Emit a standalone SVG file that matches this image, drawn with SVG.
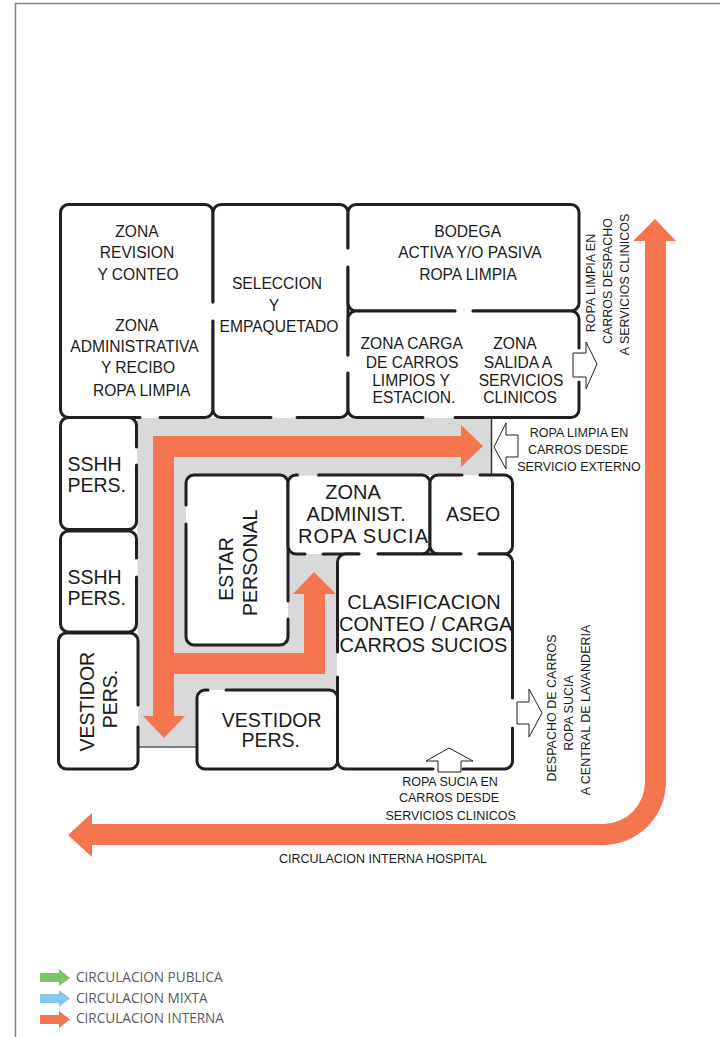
<svg xmlns="http://www.w3.org/2000/svg" width="720" height="1037" viewBox="0 0 720 1037">
<style>
text{font-family:"Liberation Sans",Arial,sans-serif;fill:#1a1a1a;text-anchor:middle}
.s{font-size:15.6px}.m{font-size:19.5px}.l{font-size:20px}.t{font-size:12.5px}
.f{fill:#fff;stroke:none}
.w{fill:none;stroke:#231f20;stroke-width:3;stroke-linecap:round}
.o{fill:#f4754e;stroke:none}
.h{fill:#fff;stroke:#231f20;stroke-width:1}
.g{font-family:"Open Sans",sans-serif;font-size:13.6px;fill:#58595b;text-anchor:start}
</style>
<path d="M15.5 1037V3.5H720" fill="none" stroke="#808080" stroke-width="1.5"/>
<g id="area-circulacion">
<path d="M137 418H491V475H337V690H197V747H138Z" fill="#d9d9d9"/>
<path d="M491.500 417V475" stroke="#333" stroke-width="1.500" fill="none"/>
<path d="M138 747H197" stroke="#555" stroke-width="1.500" fill="none"/>
</g>
<g id="zona-revision">
<rect class="f" x="60.500" y="204.500" width="152.500" height="213" rx="8"/>
<path class="w" d="M68.500 204.500H205A8 8 0 0 1 213 212.500V302M213 321V409.500A8 8 0 0 1 205 417.500H160M140 417.500H68.500A8 8 0 0 1 60.500 409.500V212.500A8 8 0 0 1 68.500 204.500"/>
<text class="s" x="137" y="237">ZONA</text>
<text class="s" x="137" y="258">REVISION</text>
<text class="s" x="138" y="280">Y CONTEO</text>
<text class="s" x="137" y="331">ZONA</text>
<text class="s" x="134.500" y="352">ADMINISTRATIVA</text>
<text class="s" x="138" y="373">Y RECIBO</text>
<text class="s" x="141.700" y="396">ROPA LIMPIA</text>
</g>
<g id="seleccion">
<rect class="f" x="213" y="204.500" width="135" height="213" rx="8"/>
<path class="w" d="M221 204.500H340A8 8 0 0 1 348 212.500V248M348 267V355M348 373V409.500A8 8 0 0 1 340 417.500H297M271 417.500H221A8 8 0 0 1 213 409.500V321M213 302V212.500A8 8 0 0 1 221 204.500"/>
<text class="s" x="277" y="289">SELECCION</text>
<text class="s" x="274" y="310.500">Y</text>
<text class="s" x="279" y="332">EMPAQUETADO</text>
</g>
<g id="bodega">
<rect class="f" x="348" y="204.500" width="231" height="106.500" rx="8"/>
<path class="w" d="M356 204.500H571A8 8 0 0 1 579 212.500V303A8 8 0 0 1 571 311H473M455 311H356A8 8 0 0 1 348 303V267M348 248V212.500A8 8 0 0 1 356 204.500"/>
<text class="s" x="467.700" y="237">BODEGA</text>
<text class="s" x="470" y="258">ACTIVA Y/O PASIVA</text>
<text class="s" x="468" y="280">ROPA LIMPIA</text>
</g>
<g id="zona-carga">
<rect class="f" x="348" y="311" width="231" height="106.500" rx="8"/>
<path class="w" d="M356 311H455M473 311H571A8 8 0 0 1 579 319V348M579 382V409.500A8 8 0 0 1 571 417.500H455M423 417.500H356A8 8 0 0 1 348 409.500V373M348 355V319A8 8 0 0 1 356 311"/>
<text class="s" x="411.700" y="349">ZONA CARGA</text>
<text class="s" x="412" y="368">DE CARROS</text>
<text class="s" x="411" y="386">LIMPIOS Y</text>
<text class="s" x="414" y="403">ESTACION.</text>
<text class="s" x="515" y="349">ZONA</text>
<text class="s" x="518" y="368">SALIDA A</text>
<text class="s" x="521" y="386">SERVICIOS</text>
<text class="s" x="520" y="403">CLINICOS</text>
</g>
<g id="sshh-1">
<rect class="f" x="60.500" y="417.500" width="76" height="112" rx="8"/>
<path class="w" d="M68.500 417.500H128.500A8 8 0 0 1 136.500 425.500V447M136.500 465V521.500A8 8 0 0 1 128.500 529.500H68.500A8 8 0 0 1 60.500 521.500V425.500A8 8 0 0 1 68.500 417.500"/>
<text class="m" x="94.500" y="470.700">SSHH</text>
<text class="m" x="96.700" y="491.500">PERS.</text>
</g>
<g id="sshh-2">
<rect class="f" x="60.500" y="531" width="76" height="101" rx="8"/>
<path class="w" d="M68.500 531H128.500A8 8 0 0 1 136.500 539V558M136.500 577V624A8 8 0 0 1 128.500 632H68.500A8 8 0 0 1 60.500 624V539A8 8 0 0 1 68.500 531"/>
<text class="m" x="94.500" y="584.200">SSHH</text>
<text class="m" x="96.700" y="604.500">PERS.</text>
</g>
<g id="vestidor-1">
<rect class="f" x="58.500" y="633" width="79.500" height="136" rx="8"/>
<path class="w" d="M66.500 633H130A8 8 0 0 1 138 641V705M138 727V761A8 8 0 0 1 130 769H66.500A8 8 0 0 1 58.500 761V641A8 8 0 0 1 66.500 633"/>
<text class="m" transform="translate(94 701.700) rotate(-90)">VESTIDOR</text>
<text class="m" transform="translate(116.700 699) rotate(-90)">PERS.</text>
</g>
<g id="estar">
<rect class="f" x="186" y="475" width="102" height="170" rx="8"/>
<path class="w" d="M194 475H280A8 8 0 0 1 288 483V601M288 619V637A8 8 0 0 1 280 645H194A8 8 0 0 1 186 637V524M186 505V483A8 8 0 0 1 194 475"/>
<text class="m" transform="translate(233 569) rotate(-90)">ESTAR</text>
<text class="m" transform="translate(256.700 562.800) rotate(-90)">PERSONAL</text>
</g>
<g id="zona-administ">
<rect class="f" x="288" y="475" width="142" height="79" rx="8"/>
<path class="w" d="M296 475H298M318 475H422A8 8 0 0 1 430 483V546A8 8 0 0 1 422 554H378M359 554H323M305 554H296A8 8 0 0 1 288 546V483A8 8 0 0 1 296 475"/>
<path d="M298 475H318" stroke="#c5dcec" stroke-width="1" fill="none"/>
<text class="l" x="353" y="498.500">ZONA</text>
<text class="l" x="356" y="520.700">ADMINIST.</text>
<text class="l" x="363" y="542.500" textLength="130">ROPA SUCIA</text>
</g>
<g id="aseo">
<rect class="f" x="430" y="475" width="82.500" height="79" rx="8"/>
<path class="w" d="M438 475H462M480 475H504.500A8 8 0 0 1 512.500 483V546A8 8 0 0 1 504.500 554H479M461 554H438A8 8 0 0 1 430 546V483A8 8 0 0 1 438 475"/>
<text class="m" x="473" y="520.500">ASEO</text>
</g>
<g id="vestidor-2">
<rect class="f" x="197" y="690" width="140.500" height="79" rx="8"/>
<path class="w" d="M205 690H208M226 690H329.500A8 8 0 0 1 337.500 698V761A8 8 0 0 1 329.500 769H205A8 8 0 0 1 197 761V698A8 8 0 0 1 205 690"/>
<text class="m" x="271.700" y="726.700">VESTIDOR</text>
<text class="m" x="270.700" y="746.700">PERS.</text>
</g>
<g id="clasificacion">
<rect class="f" x="337.500" y="554" width="175" height="215" rx="8"/>
<path class="w" d="M345.500 554H359M378 554H461M479 554H504.500A8 8 0 0 1 512.500 562V698M512.500 728V761A8 8 0 0 1 504.500 769H463M433 769H345.500A8 8 0 0 1 337.500 761V677M337.500 652V562A8 8 0 0 1 345.500 554"/>
<text class="l" x="424" y="608.500">CLASIFICACION</text>
<text class="l" x="425.700" y="631">CONTEO / CARGA</text>
<text class="l" x="423.500" y="652">CARROS SUCIOS</text>
</g>
<g id="connectors">
<path class="o" d="M153 436H461V425L483 446L461 467V457H174V653H304V594H293L314 572L336 594H325V674H174V716H185L164 738L143 716H153Z"/>
<path class="o" d="M645 241H633L655 219L676 241H666V782A63 63 0 0 1 603 845H92V857L68 835L92 813V824H603A42 42 0 0 0 645 782Z"/>
<path class="h" d="M573 353H586V342L597 364L586 389V377H573Z"/>
<path class="h" d="M518 435H506V423L494 447L506 469V457H518Z"/>
<path class="h" d="M517 702H529V689L542 713L529 737V724H517Z"/>
<path class="h" d="M438 772V761H426L449 748L473 761H461V772Z"/>
</g>
<g id="labels">
<text class="t" transform="translate(595 283) rotate(-90)">ROPA LIMPIA EN</text>
<text class="t" transform="translate(612 281) rotate(-90)">CARROS DESPACHO</text>
<text class="t" transform="translate(629 284.500) rotate(-90)">A SERVICIOS CLINICOS</text>
<text class="t" x="579" y="436.500">ROPA LIMPIA EN</text>
<text class="t" x="578" y="454">CARROS DESDE</text>
<text class="t" x="579" y="471">SERVICIO EXTERNO</text>
<text class="t" transform="translate(556 708) rotate(-90)">DESPACHO DE CARROS</text>
<text class="t" transform="translate(573 713) rotate(-90)">ROPA SUCIA</text>
<text class="t" transform="translate(590 710) rotate(-90)">A CENTRAL DE LAVANDERIA</text>
<text class="t" x="450" y="786">ROPA SUCIA EN</text>
<text class="t" x="449" y="802">CARROS DESDE</text>
<text class="t" x="450.700" y="820">SERVICIOS CLINICOS</text>
<text class="t" x="383" y="862.500">CIRCULACION INTERNA HOSPITAL</text>
</g>
<g id="legend">
<path fill="#7dc36b" d="M40 973H59V969L70 978L59 986V982H40Z"/>
<path fill="#85c6ee" d="M40 994H59V990L70 998.500L59 1007V1003H40Z"/>
<path fill="#f4754e" d="M40 1015H59V1011L70 1019.500L59 1028V1024H40Z"/>
<text class="g" x="76" y="982">CIRCULACION PUBLICA</text>
<text class="g" x="76" y="1002.500">CIRCULACION MIXTA</text>
<text class="g" x="76" y="1023">CIRCULACION INTERNA</text>
</g>
</svg>
